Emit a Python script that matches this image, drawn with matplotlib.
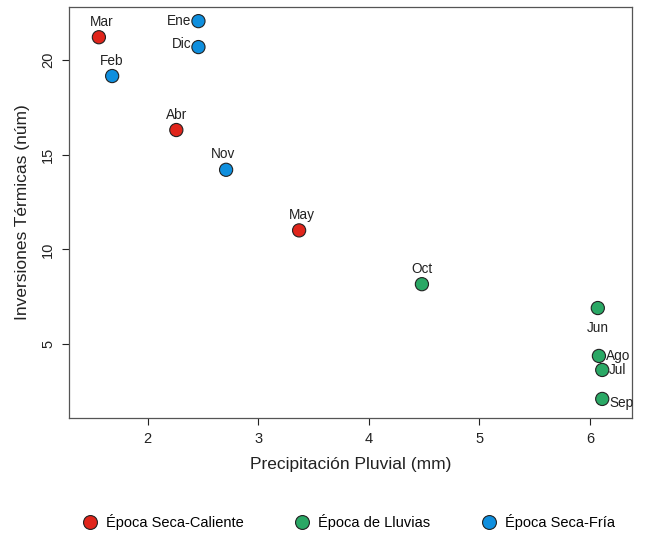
import matplotlib
matplotlib.use("Agg")
import matplotlib.pyplot as plt
from matplotlib.lines import Line2D

plt.rcParams["font.family"] = ["Liberation Sans", "DejaVu Sans"]

# data
months = ["Ene", "Feb", "Mar", "Abr", "May", "Jun", "Jul", "Ago", "Sep", "Oct", "Nov", "Dic"]
precip = [2.46, 1.68, 1.56, 2.26, 3.37, 6.07, 6.11, 6.08, 6.11, 4.48, 2.71, 2.46]
inversions = [22.05, 19.15, 21.2, 16.3, 11.0, 6.9, 3.63, 4.37, 2.1, 8.16, 14.2, 20.68]
season = ["fria", "fria", "caliente", "caliente", "caliente", "lluvias", "lluvias",
          "lluvias", "lluvias", "lluvias", "fria", "fria"]

season_names = {"caliente": "Época Seca-Caliente", "lluvias": "Época de Lluvias",
                "fria": "Época Seca-Fría"}
season_colors = {"caliente": "#e0251b", "lluvias": "#2aa865", "fria": "#0f8fde"}

# label placement (offset in points, alignment)
label_pos = {
    "Ene": ((-5, 0), "right", "center"),
    "Dic": ((-5, 2), "right", "center"),
    "Feb": ((0, 6), "center", "bottom"),
    "Mar": ((2, 6), "center", "bottom"),
    "Abr": ((0, 6), "center", "bottom"),
    "Nov": ((-2, 6), "center", "bottom"),
    "May": ((2, 6), "center", "bottom"),
    "Oct": ((0, 6), "center", "bottom"),
    "Jun": ((0, -9), "center", "top"),
    "Ago": ((5, 0), "left", "center"),
    "Jul": ((5, 0), "left", "center"),
    "Sep": ((5, -3), "left", "center"),
}

fig = plt.figure(figsize=(6.45, 5.33), dpi=100)
ax = fig.add_axes([0.107, 0.216, 0.873, 0.771])

colors = [season_colors[s] for s in season]
ax.scatter(precip, inversions, s=90, c=colors, edgecolors="#222222", linewidths=0.8, zorder=3)

for m, x, y in zip(months, precip, inversions):
    off, ha, va = label_pos[m]
    ax.annotate(m, (x, y), xytext=off, textcoords="offset points",
                ha=ha, va=va, fontsize=9.8, color="#222222")

ax.set_xlim(1.29, 6.38)
ax.set_ylim(1.1, 22.8)
ax.set_xticks([2, 3, 4, 5, 6])
ax.set_yticks([5, 10, 15, 20])
ax.tick_params(direction="out", length=5, labelsize=10.5, colors="#222222", pad=5)
plt.setp(ax.get_yticklabels(), rotation=90, va="center")
for sp in ax.spines.values():
    sp.set_color("#555555")
    sp.set_linewidth(0.9)

ax.set_xlabel("Precipitación Pluvial (mm)", fontsize=12.5, color="#222222", labelpad=8)
ax.set_ylabel("Inversiones Térmicas (núm)", fontsize=12.5, color="#222222", labelpad=8)

handles = [Line2D([], [], marker="o", linestyle="", markersize=10,
                  markerfacecolor=season_colors[k], markeredgecolor="#222222",
                  markeredgewidth=0.8, label=season_names[k])
           for k in ["caliente", "lluvias", "fria"]]
fig.legend(handles=handles, loc="center", bbox_to_anchor=(0.541, 0.02), ncol=3,
           frameon=False, fontsize=10.5, columnspacing=3.5, handlelength=1.0,
           handletextpad=0.6)

fig.savefig("out.png", dpi=100)
